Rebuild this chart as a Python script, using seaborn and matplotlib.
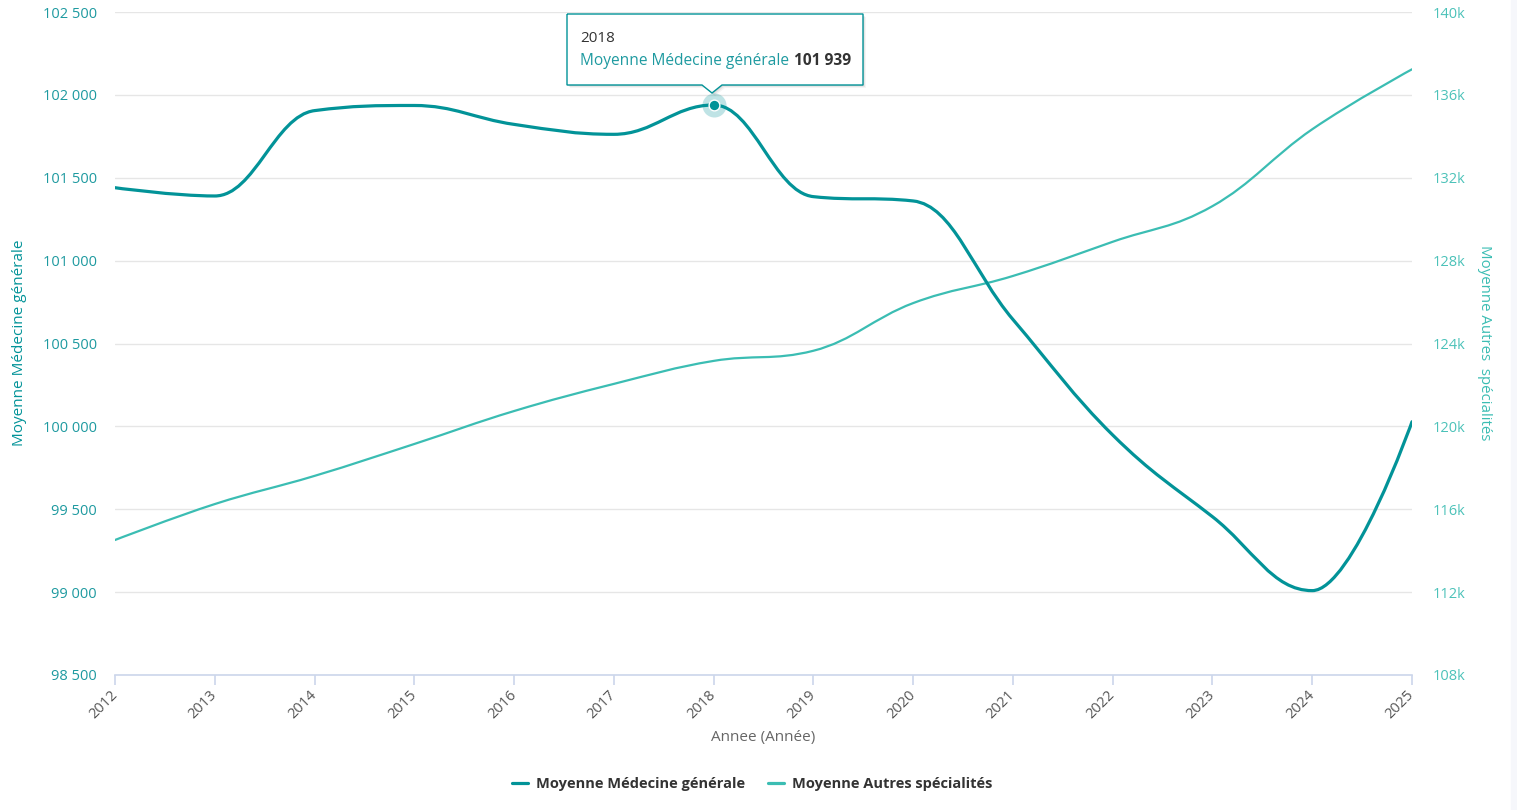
import numpy as np
import pandas as pd
import matplotlib
matplotlib.use("Agg")
import matplotlib.pyplot as plt
from matplotlib.path import Path
from matplotlib.patches import PathPatch, Rectangle
from matplotlib.lines import Line2D
from matplotlib.ticker import FuncFormatter
import seaborn as sns

# data
years = list(range(2012, 2026))
medecine_generale = [101440, 101390, 101905, 101936, 101822, 101762, 101939,
                     101386, 101360, 100645, 99948, 99455, 99009, 100028]
autres_specialites = [114516, 116250, 117610, 119150, 120740, 122050, 123160,
                      123650, 125950, 127260, 128910, 130630, 134340, 137235]
left_ticks = [98500, 99000, 99500, 100000, 100500, 101000, 101500, 102000, 102500]
right_ticks = [108000, 112000, 116000, 120000, 124000, 128000, 132000, 136000, 140000]
tooltip_year = 2018

df = pd.DataFrame({"annee": years, "mg": medecine_generale, "autres": autres_specialites})

DARK = "#029398"
LIGHT = "#3bbdb3"
W, H = 1517, 810


def spline_path(xs, ys, smoothing=1.5):
    # highcharts style spline through the points
    denom = smoothing + 1
    n = len(xs)
    rc = [None] * n
    verts = [(xs[0], ys[0])]
    codes = [Path.MOVETO]
    for i in range(1, n):
        x, y = xs[i], ys[i]
        lx, ly = xs[i - 1], ys[i - 1]
        lcx, lcy = x, y
        if i < n - 1:
            nx, ny = xs[i + 1], ys[i + 1]
            lcx = (smoothing * x + lx) / denom
            lcy = (smoothing * y + ly) / denom
            rcx = (smoothing * x + nx) / denom
            rcy = (smoothing * y + ny) / denom
            corr = (rcy - lcy) * (rcx - x) / (rcx - lcx) + y - rcy
            lcy += corr
            rcy += corr
            if lcy > ly and lcy > y:
                lcy = max(ly, y); rcy = 2 * y - lcy
            elif lcy < ly and lcy < y:
                lcy = min(ly, y); rcy = 2 * y - lcy
            if rcy > ny and rcy > y:
                rcy = max(ny, y); lcy = 2 * y - rcy
            elif rcy < ny and rcy < y:
                rcy = min(ny, y); lcy = 2 * y - rcy
            rc[i] = (rcx, rcy)
        prev = rc[i - 1] if rc[i - 1] is not None else (lx, ly)
        verts += [prev, (lcx, lcy), (x, y)]
        codes += [Path.CURVE4] * 3
    return Path(verts, codes)


def fpx(x, y):
    return (x / W, 1 - y / H)


sns.set_theme(style="white")
plt.rcParams["font.family"] = ["Open Sans", "DejaVu Sans"]

fig = plt.figure(figsize=(W / 100, H / 100), dpi=100)
ax = fig.add_axes([115 / W, 1 - 675 / H, 1297 / W, 663 / H])
ax2 = ax.twinx()

ax.set_xlim(2012, 2025)
ax.set_ylim(98500, 102500)
ax2.set_ylim(108000, 140000)

# faint strip at the right edge
fig.patches.append(Rectangle(fpx(1511, 810), 6 / W, 1, transform=fig.transFigure,
                             color="#f6f7fb", zorder=0))

ax.set_yticks(left_ticks)
ax2.set_yticks(right_ticks)
ax.set_xticks(years)
ax.yaxis.set_major_formatter(FuncFormatter(lambda v, p: f"{int(v):,}".replace(",", " ")))
ax2.yaxis.set_major_formatter(FuncFormatter(lambda v, p: f"{int(v / 1000)}k"))
ax.set_xticklabels([str(y) for y in years], rotation=45, ha="right",
                   rotation_mode="anchor", va="center")

ax.yaxis.grid(True, color="#e6e6e6", lw=1)
ax.set_axisbelow(True)
for a in (ax, ax2):
    for s in ["top", "left", "right", "bottom"]:
        a.spines[s].set_visible(False)
ax.spines["bottom"].set_visible(True)
ax.spines["bottom"].set_color("#ccd6eb")
ax.spines["bottom"].set_linewidth(1.2)

ax.tick_params(axis="x", length=7, width=1.2, color="#ccd6eb", pad=6,
               labelsize=10.5, labelcolor="#555555", bottom=True)
ax.tick_params(axis="y", length=0, pad=13, labelsize=10.5, labelcolor="#1e9aa0")
ax2.tick_params(axis="y", length=0, pad=15, labelsize=10.5, labelcolor="#4cc2b9")

# lines
ax.add_patch(PathPatch(spline_path(df["annee"].tolist(), df["autres"].tolist()),
                       transform=ax2.transData, fill=False, edgecolor=LIGHT, lw=1.6,
                       zorder=2, capstyle="round"))
ax.add_patch(PathPatch(spline_path(df["annee"].tolist(), df["mg"].tolist()),
                       fill=False, edgecolor=DARK, lw=2.3, zorder=3, capstyle="round"))

# highlighted point
hl = df[df["annee"] == tooltip_year]
sns.scatterplot(data=hl, x="annee", y="mg", ax=ax, s=300, color=DARK, alpha=0.25,
                linewidth=0, zorder=4, legend=False)
sns.scatterplot(data=hl, x="annee", y="mg", ax=ax, s=60, color=DARK,
                edgecolor="white", linewidth=1, zorder=5, legend=False)

# axis titles (after seaborn, which resets them)
ax.set_xlabel("Annee (Année)", fontsize=11, color="#666666")
ax.xaxis.set_label_coords(0.5, -(738 - 675) / 663)
ax.xaxis.label.set_va("center")
ax.set_ylabel("Moyenne Médecine générale", fontsize=11, color=DARK)
ax.yaxis.set_label_coords((20 - 115) / 1297, (675 - 343) / 663)
ax.yaxis.label.set_va("center")
ax2.set_ylabel("Moyenne Autres  spécialités", fontsize=10.8, color=LIGHT, rotation=270)
ax2.yaxis.set_label_coords((1485 - 115) / 1297, (675 - 343) / 663)
ax2.yaxis.label.set_va("center")

# tooltip
pts = [(567, 14), (863, 14), (863, 85), (722, 85), (712, 93), (702, 85), (567, 85), (567, 14)]
for off, al in [(3, 0.04), (2, 0.06), (1, 0.08)]:
    sh = Path([fpx(x + off, y + off) for x, y in pts])
    fig.patches.append(PathPatch(sh, transform=fig.transFigure, facecolor="black",
                                 edgecolor="none", alpha=al, zorder=9))
fig.patches.append(PathPatch(Path([fpx(x, y) for x, y in pts]), transform=fig.transFigure,
                             facecolor="white", edgecolor=DARK, lw=1, zorder=10))
fig.text(*fpx(580, 38), str(tooltip_year), fontsize=11, color="#333333",
         va="center", ha="left", zorder=11)
t1 = fig.text(*fpx(580, 61), "Moyenne Médecine générale", fontsize=11.2, color="#1e9aa0",
              va="center", ha="left", zorder=11)
fig.canvas.draw()
bb = t1.get_window_extent()
val = f"{int(hl['mg'].iloc[0]):,}".replace(",", " ")
fig.text((bb.x1 + 5) / W, 1 - 61 / H, val, fontsize=11.2, color="#333333",
         fontweight="bold", va="center", ha="left", zorder=11)

# legend
handles = [Line2D([], [], color=DARK, lw=2.3), Line2D([], [], color=LIGHT, lw=2.3)]
leg = fig.legend(handles, ["Moyenne Médecine générale", "Moyenne Autres spécialités"],
                 loc="center", bbox_to_anchor=(752 / W, 1 - 784 / H), ncol=2,
                 frameon=False, handlelength=1.1, handletextpad=0.55, columnspacing=1.6,
                 prop={"size": 10.5, "weight": "bold"})
for t in leg.get_texts():
    t.set_color("#333333")

fig.savefig("out.png", dpi=100)
